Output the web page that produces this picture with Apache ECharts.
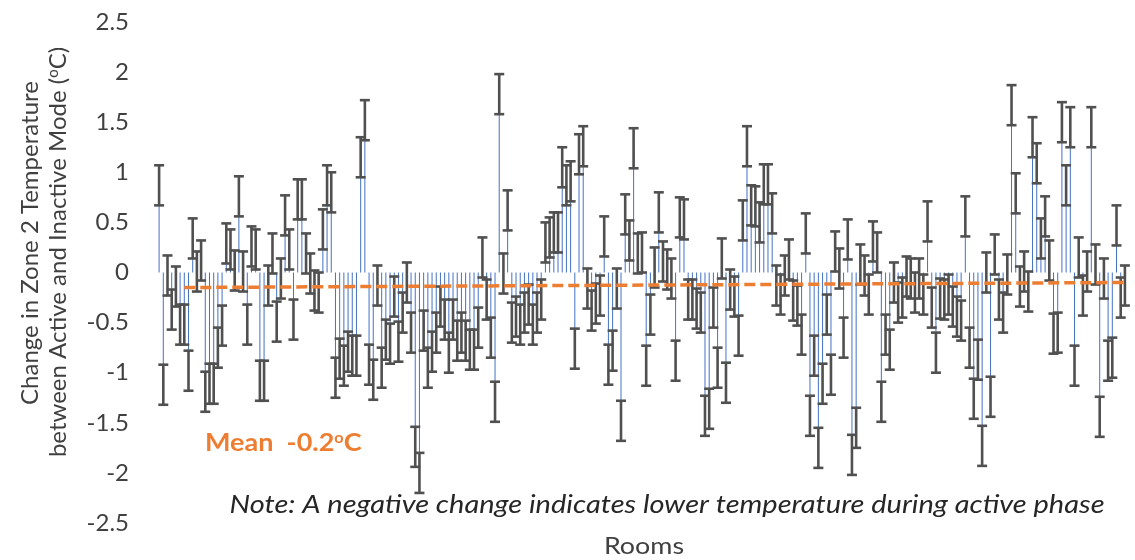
<!DOCTYPE html>
<html>
<head>
    <meta charset="utf-8"/>
    <title></title>
    <script src="https://cdn.jsdelivr.net/npm/echarts@6/dist/echarts.min.js"></script>
    <style>
        html, body { margin: 0; padding: 0; background: #fff; }
        #main { width: 1135px; height: 560px; }
    </style>
</head>
<body>
<div id="main"></div>
<script type="text/javascript">
    /* change of zone 2 temperature per room (active - inactive), degC */
    var changes = [
        0.87, -1.12, -0.03, -0.37, -0.14, -0.52, -0.52, -0.98, 0.34, 0.01,
        0.12, -1.19, -1.11, -1.11, -0.75, -0.53, 0.29, 0.23, 0.02, 0.76,
        0.01, -0.52, 0.26, 0.23, -1.08, -1.08, -0.13, 0.19, -0.49, -0.06,
        0.57, 0.23, -0.47, 0.73, 0.73, 0.19, -0.01, -0.18, -0.2, 0.43,
        0.87, 0.8, -1.05, -0.86, -0.93, -0.79, -0.83, -0.83, 1.15, 1.52,
        -0.92, -1.07, -0.13, -0.95, -0.67, -0.71, -0.24, -0.69, -0.4, -0.1,
        -0.6, -1.74, -2.0, -0.58, -0.95, -0.79, -0.6, -0.34, -0.47, -0.8,
        -0.47, -0.68, -0.6, -0.68, -0.77, -0.77, -0.55, 0.15, -0.27, -0.65,
        -1.29, 1.78, -0.01, 0.62, -0.5, -0.44, -0.52, -0.4, -0.32, -0.52,
        -0.4, -0.27, 0.3, 0.35, 0.4, 0.4, 1.05, 0.87, 0.91, -0.76,
        1.18, 1.26, -0.16, -0.38, -0.31, -0.23, 0.36, -0.92, -0.78, -0.16,
        -1.48, 0.58, 0.32, 1.24, 0.19, 0.2, -0.93, -0.42, 0.05, 0.6,
        0.11, 0.03, -0.06, -0.88, 0.55, 0.53, -0.27, -0.27, -0.36, -0.4,
        -1.43, -1.36, -0.35, -0.95, 0.14, -1.1, -0.17, -0.24, -0.63, 0.52,
        1.26, 0.67, 0.66, 0.5, 0.88, 0.88, 0.59, -0.13, -0.22, -0.03,
        0.13, -0.28, -0.33, -0.62, 0.39, -1.43, -0.83, -1.75, -1.11, -0.42,
        -1.02, 0.21, 0.04, -0.65, 0.33, -1.82, -1.55, 0.08, -0.03, -0.22,
        0.31, 0.2, -1.29, -0.62, -0.77, -0.1, -0.3, -0.25, -0.04, -0.06,
        -0.2, -0.06, -0.22, 0.51, -0.35, -0.8, -0.26, -0.27, -0.22, -0.34,
        -0.44, -0.48, 0.56, -0.75, -1.26, -0.87, -1.73, 0.0, -1.24, 0.18,
        -0.27, -0.4, -0.02, 1.67, 0.79, -0.14, 0.01, -0.19, 1.35, 1.09,
        0.34, 0.56, 0.12, -0.61, -0.6, 1.5, 0.87, 1.45, -0.93, 0.15,
        -0.23, 0.01, 1.45, 0.08, -1.44, -0.06, -0.88, -0.85, 0.47, -0.25,
        -0.13
    ];
    /* error bar half width, degC */
    var errHalf = 0.2;
    /* dashed mean / trend line: room index and value at both ends */
    var trendRooms = [6, 230];
    var trendValues = [-0.15, -0.10];

    var rooms = changes.map(function (v, i) { return 'Room ' + (i + 1); });
    var errData = changes.map(function (v, i) { return [i, v - errHalf, v + errHalf]; });

    var chart = echarts.init(document.getElementById('main'));

    /* error bar: vertical stroke with a cap at each end */
    function renderErr(params, api) {
        var x = api.value(0);
        var lo = api.coord([x, api.value(1)]);
        var hi = api.coord([x, api.value(2)]);
        var cap = 5;
        var st = {stroke: '#505050', lineWidth: 2.6};
        return {
            type: 'group',
            children: [
                {type: 'line', shape: {x1: lo[0], y1: lo[1], x2: hi[0], y2: hi[1]}, style: st},
                {type: 'line', shape: {x1: lo[0] - cap, y1: lo[1], x2: lo[0] + cap, y2: lo[1]}, style: st},
                {type: 'line', shape: {x1: hi[0] - cap, y1: hi[1], x2: hi[0] + cap, y2: hi[1]}, style: st}
            ]
        };
    }

    var option = {
        animation: false,
        backgroundColor: '#ffffff',
        grid: {left: 157, right: 8, top: 22, bottom: 37},
        xAxis: {
            type: 'category',
            data: rooms,
            axisLine: {show: false},
            axisTick: {show: false},
            axisLabel: {show: false}
        },
        yAxis: {
            type: 'value',
            min: -2.5,
            max: 2.5,
            interval: 0.5,
            axisLine: {show: false},
            axisTick: {show: false},
            splitLine: {show: false},
            axisLabel: {fontFamily: 'Lato', fontSize: 24, color: '#404040', margin: 28}
        },
        series: [
            {
                type: 'bar',
                data: changes,
                barWidth: 1,
                itemStyle: {color: '#4472C4'}
            },
            {
                type: 'custom',
                renderItem: renderErr,
                data: errData,
                encode: {x: 0, y: [1, 2]},
                z: 3
            },
            {
                type: 'line',
                data: [[trendRooms[0], trendValues[0]], [trendRooms[1], trendValues[1]]],
                symbol: 'none',
                lineStyle: {color: '#ED7D31', width: 3.5, type: [11, 5]},
                z: 5
            }
        ],
        graphic: [
            {
                type: 'text', x: 30, y: 243, rotation: Math.PI / 2,
                style: {
                    text: 'Change in Zone 2 Temperature',
                    font: '24px Lato', fill: '#404040',
                    align: 'center', verticalAlign: 'middle',
                    textAlign: 'center', textVerticalAlign: 'middle'
                }
            },
            {
                type: 'text', x: 58, y: 252, rotation: Math.PI / 2,
                style: {
                    text: 'between Active and Inactive Mode ({s|o}C)',
                    font: '24px Lato', fill: '#404040',
                    align: 'center', verticalAlign: 'middle',
                    textAlign: 'center', textVerticalAlign: 'middle',
                    rich: {s: {fontSize: 15, fontFamily: 'Lato', fill: '#404040', padding: [0, 0, 10, 0]}}
                }
            },
            {
                type: 'text', x: 205, y: 443, scaleX: 1.08,
                style: {
                    text: 'Mean  -0.2{s|o}C',
                    font: 'bold 25px Lato', fill: '#ED7D31',
                    align: 'left', verticalAlign: 'middle',
                    textAlign: 'left', textVerticalAlign: 'middle',
                    rich: {s: {fontSize: 15, fontWeight: 'bold', fontFamily: 'Lato', fill: '#ED7D31', padding: [0, 0, 10, 0]}}
                }
            },
            {
                type: 'text', x: 667, y: 505, scaleX: 1.16,
                style: {
                    text: 'Note: A negative change indicates lower temperature during active phase',
                    font: 'italic 25px Lato', fill: '#262626',
                    align: 'center', verticalAlign: 'middle',
                    textAlign: 'center', textVerticalAlign: 'middle'
                }
            },
            {
                type: 'text', x: 644, y: 546, scaleX: 1.12,
                style: {
                    text: 'Rooms',
                    font: '24px Lato', fill: '#404040',
                    align: 'center', verticalAlign: 'middle',
                    textAlign: 'center', textVerticalAlign: 'middle'
                }
            }
        ]
    };

    chart.setOption(option);
    window.onresize = chart.resize;
</script>
</body>
</html>
